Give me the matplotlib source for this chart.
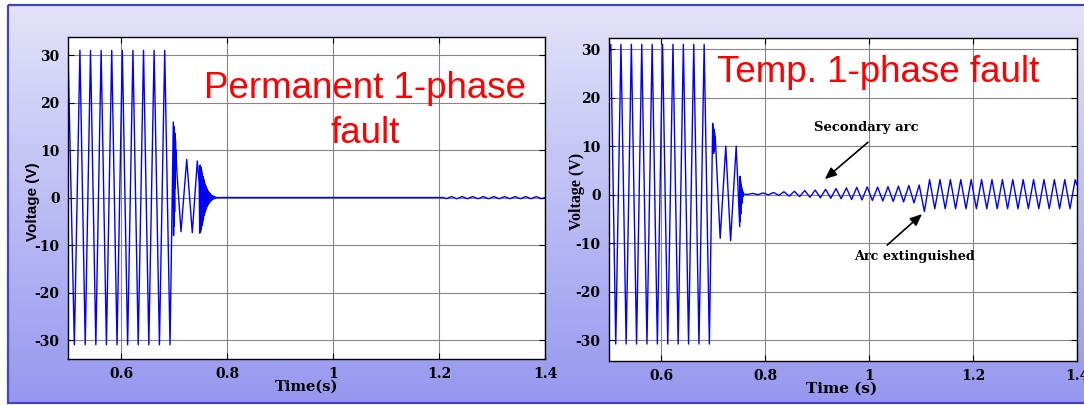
import numpy as np
import matplotlib
matplotlib.use("Agg")
import matplotlib.pyplot as plt
from matplotlib.colors import LinearSegmentedColormap
from matplotlib.patches import Rectangle

# ---------------- data ----------------
# Permanent 1-phase fault: time (s) and voltage (V) of the waveform's turning points
perm_t = [0.5000, 0.5120, 0.5225, 0.5325, 0.5425, 0.5525, 0.5625, 0.5725, 0.5825, 0.5925,
          0.6025, 0.6125, 0.6225, 0.6325, 0.6425, 0.6525, 0.6625, 0.6725, 0.6825, 0.6925,
          0.6987, 0.6992, 0.6997, 0.7002, 0.7007, 0.7012, 0.7017, 0.7022, 0.7028, 0.7034,
          0.7040, 0.7048, 0.7132, 0.7240, 0.7345, 0.7440, 0.7475,
          0.7485, 0.7492, 0.7499, 0.7506, 0.7513, 0.7520, 0.7527, 0.7534, 0.7541, 0.7548,
          0.7555, 0.7562, 0.7569, 0.7576, 0.7583, 0.7590, 0.7597, 0.7604, 0.7611, 0.7618,
          0.7625, 0.7632, 0.7639, 0.7646, 0.7653, 0.7660, 0.7667, 0.7674, 0.7681, 0.7690,
          0.7700, 0.7710, 0.7720, 0.7730, 0.7740, 0.7750, 0.7760, 0.7770, 0.7780, 0.7795,
          0.7810, 0.7870, 1.2085,
          1.2135, 1.2235, 1.2335, 1.2435, 1.2535, 1.2635, 1.2735, 1.2835, 1.2935, 1.3035,
          1.3135, 1.3235, 1.3335, 1.3435, 1.3535, 1.3635, 1.3735, 1.3835, 1.3935, 1.4000]
perm_v = [31.0, -31.0, 31.0, -31.0, 31.0, -31.0, 31.0, -31.0, 31.0, -31.0,
          31.0, -31.0, 31.0, -31.0, 31.0, -31.0, 31.0, -31.0, 31.0, -31.0,
          15.9, -8.0, 15.0, -6.0, 14.0, -3.0, 13.5, 2.0, 12.0, 6.5,
          10.0, 6.5, -7.2, 8.0, -7.4, 7.7, 3.0,
          -7.5, 6.8, -7.3, 6.4, -6.8, 5.8, -6.0, 5.0, -5.2, 4.4,
          -4.5, 3.8, -3.8, 3.2, -3.2, 2.7, -2.7, 2.3, -2.3, 1.9,
          -1.9, 1.6, -1.6, 1.3, -1.3, 1.1, -1.1, 0.9, -0.9, 0.7,
          -0.7, 0.5, -0.5, 0.35, -0.35, 0.25, -0.25, 0.15, -0.15, 0.08,
          -0.05, 0.0, 0.0,
          -0.25, 0.2, -0.25, 0.2, -0.25, 0.2, -0.25, 0.2, -0.25, 0.2,
          -0.25, 0.2, -0.25, 0.2, -0.25, 0.2, -0.25, 0.2, -0.25, 0.0]

# Temporary 1-phase fault: time (s) and voltage (V) of the waveform's turning points
temp_t = [0.5000, 0.5035, 0.5130, 0.5230, 0.5330, 0.5430, 0.5530, 0.5630, 0.5730, 0.5830,
          0.5930, 0.6030, 0.6130, 0.6230, 0.6330, 0.6430, 0.6530, 0.6630, 0.6730, 0.6830,
          0.6930,
          0.6994, 0.7000, 0.7006, 0.7012, 0.7018, 0.7024, 0.7030, 0.7036, 0.7042, 0.7050,
          0.7138, 0.7246, 0.7338, 0.7446, 0.7514,
          0.7519, 0.7524, 0.7529, 0.7534, 0.7539, 0.7544, 0.7549, 0.7554, 0.7559, 0.7564,
          0.7570, 0.7576, 0.7582, 0.7590,
          0.7665, 0.7765, 0.7865, 0.7965, 0.8065, 0.8165, 0.8265, 0.8365, 0.8465, 0.8565,
          0.8665, 0.8765, 0.8865, 0.8965, 0.9065, 0.9165, 0.9265, 0.9365, 0.9465, 0.9565,
          0.9665, 0.9765, 0.9865, 0.9965, 1.0065, 1.0165, 1.0265, 1.0365, 1.0465, 1.0565,
          1.0665, 1.0765, 1.0865, 1.0965, 1.1065,
          1.1165, 1.1265, 1.1365, 1.1465, 1.1565, 1.1665, 1.1765, 1.1865, 1.1965, 1.2065,
          1.2165, 1.2265, 1.2365, 1.2465, 1.2565, 1.2665, 1.2765, 1.2865, 1.2965, 1.3065,
          1.3165, 1.3265, 1.3365, 1.3465, 1.3565, 1.3665, 1.3765, 1.3865, 1.3965, 1.4000]
temp_v = [29.0, 31.0, -30.8, 31.0, -30.8, 31.0, -30.8, 31.0, -30.8, 31.0,
          -30.8, 31.0, -30.8, 31.0, -30.8, 31.0, -30.8, 31.0, -30.8, 31.0,
          -30.8,
          14.7, 9.0, 14.2, 8.5, 13.5, 9.0, 12.8, 9.5, 12.0, 10.5,
          -9.0, 10.0, -9.5, 10.0, -6.6,
          3.8, -5.5, 3.0, -4.0, 2.2, -2.8, 1.6, -1.8, 1.1, -1.0,
          0.7, -0.4, 0.4, 0.1,
          0.05, 0.25, 0.0, 0.35, -0.05, 0.45, -0.15, 0.6, -0.3, 0.7,
          -0.4, 0.85, -0.55, 0.95, -0.65, 1.1, -0.75, 1.25, -0.85, 1.4,
          -1.0, 1.5, -1.1, 1.6, -1.2, 1.55, -1.3, 1.65, -1.4, 1.75,
          -1.5, 1.9, -1.7, 2.0, -3.5,
          3.1, -2.9, 3.1, -2.9, 3.1, -2.9, 3.1, -2.9, 3.1, -2.9,
          3.1, -2.9, 3.1, -2.9, 3.1, -2.9, 3.1, -2.9, 3.1, -2.9,
          3.1, -2.9, 3.1, -2.9, 3.1, -2.9, 3.1, -2.9, 3.1, 2.0]

x_ticks = [0.6, 0.8, 1.0, 1.2, 1.4]
x_tick_labels = ["0.6", "0.8", "1", "1.2", "1.4"]
y_ticks = [-30, -20, -10, 0, 10, 20, 30]
y_tick_labels = ["-30", "-20", "-10", "0", "10", "20", "30"]

titles = ["Permanent 1-phase", "fault", "Temp. 1-phase fault"]
x_labels = ["Time(s)", "Time (s)"]
y_label = "Voltage (V)"
arrow_labels = ["Secondary arc", "Arc extinguished"]
# annotation anchor points in data coordinates (text centre, arrow tail, arrow head)
sec_text, sec_tail, sec_head = (0.994, 13.9), (0.998, 10.8), (0.915, 3.2)
ext_text, ext_tail, ext_head = (1.088, -12.7), (1.035, -10.4), (1.102, -4.0)

# ---------------- figure ----------------
W, H = 1084, 405
fig = plt.figure(figsize=(W / 100, H / 100), dpi=100)
fig.patch.set_facecolor("white")

# slide background (gradient panel with border)
bg = fig.add_axes([0, 0, 1, 1], zorder=-10)
grad = np.linspace(0, 1, 256)[:, None]
cmap = LinearSegmentedColormap.from_list("bg", ["#E3E3FA", "#9797F0"])
bg.imshow(grad, extent=(8, 1095, 403, 5), cmap=cmap, aspect="auto", interpolation="bilinear")
bg.add_patch(Rectangle((8, 5), 1087, 398, fill=False, ec="#4343C8", lw=1.6))
bg.set_xlim(0, W)
bg.set_ylim(H, 0)
bg.axis("off")

serif_bold = dict(family="DejaVu Serif", weight="bold")


def px_axes(x0, y0, x1, y1):
    return [x0 / W, 1 - y1 / H, (x1 - x0) / W, (y1 - y0) / H]


def style(ax, ylim):
    ax.set_facecolor("white")
    ax.set_xlim(0.5, 1.4)
    ax.set_ylim(*ylim)
    ax.set_xticks(x_ticks, labels=x_tick_labels)
    ax.set_yticks(y_ticks, labels=y_tick_labels)
    ax.grid(True, color="#858585", lw=0.8, ls="-")
    ax.tick_params(direction="in", top=True, right=True, length=4, width=0.8,
                   pad=6, labelsize=10)
    for lab in ax.get_xticklabels() + ax.get_yticklabels():
        lab.set_fontfamily("DejaVu Serif")
        lab.set_fontweight("bold")
    for sp in ax.spines.values():
        sp.set_linewidth(1.0)
        sp.set_color("black")


# left: permanent fault
ax1 = fig.add_axes(px_axes(68, 37, 545, 359))
ax1.plot(perm_t, perm_v, color="#0000FF", lw=1.0)
style(ax1, (-34.0, 33.8))
ax1.set_xlabel(x_labels[0], fontsize=10.5, va="center", **serif_bold)
ax1.xaxis.set_label_coords(0.501, -0.087)
ax1.set_ylabel(y_label, fontsize=11, family="Liberation Sans", weight="bold", va="center")
ax1.yaxis.set_label_coords(-0.073, 0.488)

# right: temporary fault
ax2 = fig.add_axes(px_axes(609, 38, 1077, 361))
ax2.plot(temp_t, temp_v, color="#0000FF", lw=1.0)
style(ax2, (-34.3, 32.3))
ax2.set_xlabel(x_labels[1], fontsize=11, va="center", **serif_bold)
ax2.xaxis.set_label_coords(0.498, -0.087)
ax2.set_ylabel(y_label, fontsize=11.5, family="Liberation Serif", weight="bold", va="center")
ax2.yaxis.set_label_coords(-0.069, 0.526)

# annotations on right plot
ax2.text(*sec_text, arrow_labels[0], ha="center", va="center", fontsize=9.5, **serif_bold)
ax2.text(*ext_text, arrow_labels[1], ha="center", va="center", fontsize=9.2, **serif_bold)
arrow_kw = dict(arrowstyle="-|>,head_length=0.7,head_width=0.3", color="black", lw=1.2,
                shrinkA=0, shrinkB=0)
ax2.annotate("", xy=sec_head, xytext=sec_tail, arrowprops=arrow_kw)
ax2.annotate("", xy=ext_head, xytext=ext_tail, arrowprops=arrow_kw)

# red slide titles
red = dict(color="#FF0000", fontsize=26.5, family="Liberation Sans", ha="center", va="baseline")
fig.text(365.5 / W, 1 - 98.3 / H, titles[0], **red)
fig.text(365.5 / W, 1 - 143.0 / H, titles[1], **red)
fig.text(878.5 / W, 1 - 81.7 / H, titles[2], **red)

fig.savefig("out.png", dpi=100)
